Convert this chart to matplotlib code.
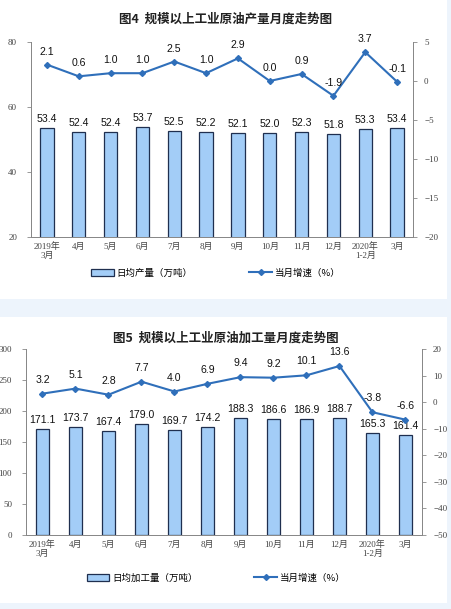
import matplotlib.pyplot as plt
from matplotlib.patches import Rectangle

# data
months = ['2019年\n3月', '4月', '5月', '6月', '7月', '8月', '9月', '10月', '11月',
          '12月', '2020年\n1-2月', '3月']
output_daily = [53.4, 52.4, 52.4, 53.7, 52.5, 52.2, 52.1, 52.0, 52.3, 51.8, 53.3, 53.4]
output_growth = [2.1, 0.6, 1.0, 1.0, 2.5, 1.0, 2.9, 0.0, 0.9, -1.9, 3.7, -0.1]
proc_daily = [171.1, 173.7, 167.4, 179.0, 169.7, 174.2, 188.3, 186.6, 186.9, 188.7, 165.3, 161.4]
proc_growth = [3.2, 5.1, 2.8, 7.7, 4.0, 6.9, 9.4, 9.2, 10.1, 13.6, -3.8, -6.6]

bar_face = '#a3cdf7'
bar_edge = '#1f2f4f'
line_col = '#2f6fba'
cjk = ['Noto Sans CJK SC', 'DejaVu Sans']
serif = ['Liberation Serif', 'Noto Sans CJK SC']
num = ['Liberation Sans', 'DejaVu Sans']

fig = plt.figure(figsize=(4.52, 6.09), dpi=100)
fig.patch.set_facecolor('#edf4fc')
W, H = 452, 609
# white panels
fig.patches.append(Rectangle((0, 1 - 299 / H), 447 / W, 299 / H, transform=fig.transFigure,
                             facecolor='white', edgecolor='none', zorder=-10))
fig.patches.append(Rectangle((0, 1 - 603 / H), 447 / W, (603 - 317) / H, transform=fig.transFigure,
                             facecolor='white', edgecolor='none', zorder=-10))


def draw(rect, title, title_y, bars, growth, ylim, yticks, y2lim, y2ticks,
         bar_off, line_off, leg_labels, leg_xy):
    ax = fig.add_axes(rect)
    ax.set_facecolor('none')
    x = list(range(len(months)))
    b = ax.bar(x, bars, width=0.42, color=bar_face, edgecolor=bar_edge, linewidth=0.9, zorder=2)
    ax.set_xlim(-0.5, len(months) - 0.5)
    ax.set_ylim(*ylim)
    ax.set_yticks(yticks)
    ax.set_xticks(x)
    ax.set_xticklabels(months, family=serif, fontsize=6.5, color='#444444', linespacing=1.15)
    for lab in ax.get_yticklabels():
        lab.set_family(serif)
        lab.set_fontsize(6.5)
        lab.set_color('#444444')
    for i, v in enumerate(bars):
        ax.annotate(f'{v:.1f}', (i, v), xytext=(0, bar_off), textcoords='offset pixels',
                    ha='center', va='bottom', fontsize=7.6, family=num, color='#111111')
    ax.spines['top'].set_visible(False)
    for s in ['left', 'right', 'bottom']:
        ax.spines[s].set_color('#888888')
        ax.spines[s].set_linewidth(0.7)
    ax.tick_params(axis='y', length=3, width=0.6, color='#888888', pad=7)
    ax.tick_params(axis='x', length=0, pad=4)

    ax2 = ax.twinx()
    ln, = ax2.plot(x, growth, color=line_col, linewidth=1.5, marker='D', markersize=3,
                   zorder=3)
    ax2.set_ylim(*y2lim)
    ax2.set_yticks(y2ticks)
    for lab in ax2.get_yticklabels():
        lab.set_family(serif)
        lab.set_fontsize(6.5)
        lab.set_color('#444444')
    ax2.spines['top'].set_visible(False)
    for s in ['left', 'right', 'bottom']:
        ax2.spines[s].set_color('#888888')
        ax2.spines[s].set_linewidth(0.7)
    ax2.tick_params(axis='y', length=3, width=0.6, color='#888888', pad=5)
    for i, v in enumerate(growth):
        ax2.annotate(f'{v:.1f}', (i, v), xytext=(0, line_off), textcoords='offset pixels',
                     ha='center', va='bottom', fontsize=7.6, family=num, color='#111111')

    fig.text(0.5, title_y, title, ha='center', va='center', family=cjk, fontsize=9,
             fontweight='bold', color='#222222')
    fig.legend([b, ln], leg_labels, loc='center', bbox_to_anchor=leg_xy, ncol=2,
               frameon=False, prop={'family': cjk, 'size': 6.8}, handlelength=2.4,
               handleheight=0.7, columnspacing=6, handletextpad=0.3)


draw([31 / W, 1 - 237 / H, 382 / W, 195 / H], '图4  规模以上工业原油产量月度走势图', 1 - 19 / H,
     output_daily, output_growth, (20, 80), [20, 40, 60, 80], (-20, 5),
     [-20, -15, -10, -5, 0, 5], 4, 8,
     ['日均产量（万吨）', '当月增速（%）'], (216 / W, 1 - 273 / H))

draw([26 / W, 1 - 535 / H, 396 / W, 186 / H], '图5  规模以上工业原油加工量月度走势图', 1 - 338 / H,
     proc_daily, proc_growth, (0, 300), [0, 50, 100, 150, 200, 250, 300], (-50, 20),
     [-50, -40, -30, -20, -10, 0, 10, 20], 4, 9,
     ['日均加工量（万吨）', '当月增速（%）'], (216 / W, 1 - 578 / H))

fig.savefig('out.png', dpi=100, facecolor=fig.get_facecolor())
